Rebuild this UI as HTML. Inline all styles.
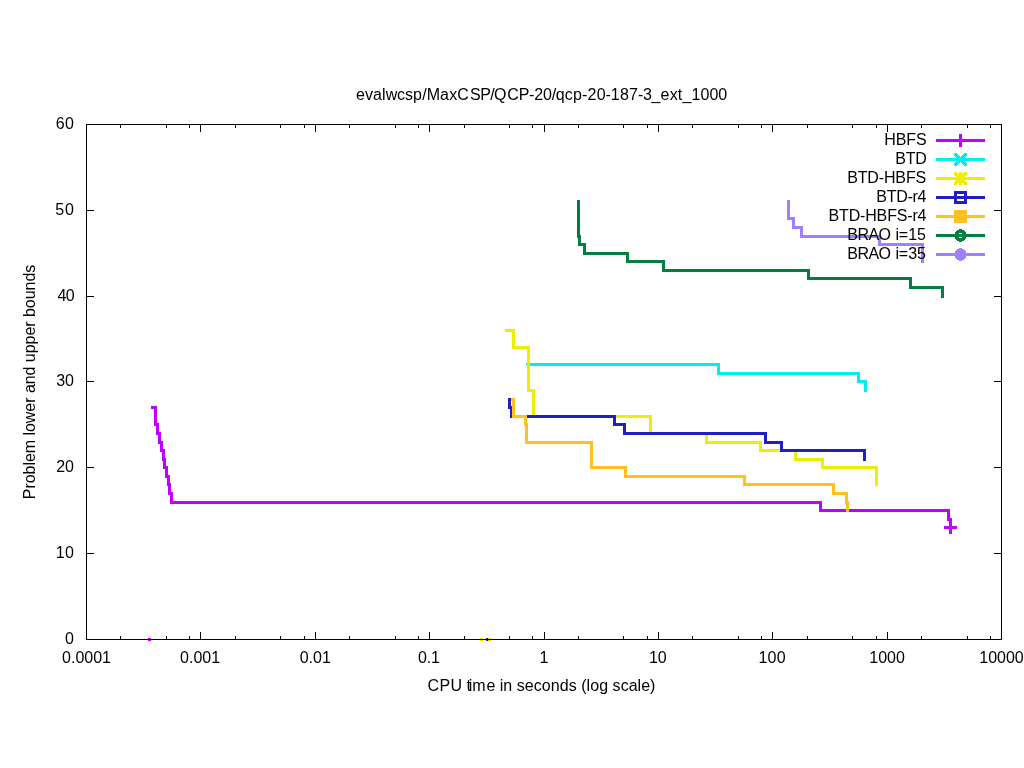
<!DOCTYPE html>
<html><head><meta charset="utf-8"><title>evalwcsp/MaxCSP/QCP-20/qcp-20-187-3_ext_1000</title>
<style>html,body{margin:0;padding:0;background:#fff;overflow:hidden}svg{display:block}</style></head>
<body>
<svg width="1024" height="768" viewBox="0 0 1024 768">
<rect width="1024" height="768" fill="#fff"/>
<g shape-rendering="crispEdges">
<rect x="148" y="638" width="3" height="3" fill="#c000ff"/>
<rect x="480" y="638" width="3" height="3" fill="#eeee00"/>
<rect x="486" y="638" width="3" height="3" fill="#2020c0"/>
<rect x="488" y="638" width="3" height="3" fill="#ffc020"/>
<g fill="none" stroke-width="3" stroke-linejoin="miter" stroke-linecap="butt">
<path d="M151 407.5 L155.5 407.5 L155.5 424.5 L157.5 424.5 L157.5 433.5 L159.5 433.5 L159.5 442.5 L161.5 442.5 L161.5 450.5 L163.5 450.5 L163.5 459.5 L164.5 459.5 L164.5 467.5 L166.5 467.5 L166.5 476.5 L168.5 476.5 L168.5 484.5 L169.5 484.5 L169.5 493.5 L171.5 493.5 L171.5 502.5 L820.5 502.5 L820.5 510.5 L948.5 510.5 L948.5 519.5 L950.5 519.5 L950.5 529" stroke="#c000ff"/>
<path d="M526 364.5 L718.5 364.5 L718.5 373.5 L858.5 373.5 L858.5 381.5 L865.5 381.5 L865.5 392" stroke="#00eeee"/>
<path d="M505 330.5 L513.5 330.5 L513.5 347.5 L528.5 347.5 L528.5 390.5 L533.5 390.5 L533.5 416.5 L650.5 416.5 L650.5 433.5 L706.5 433.5 L706.5 442.5 L760.5 442.5 L760.5 450.5 L795.5 450.5 L795.5 459.5 L822.5 459.5 L822.5 467.5 L876.5 467.5 L876.5 486" stroke="#eeee00"/>
<path d="M509.5 398 L509.5 407.5 L511.5 407.5 L511.5 416.5 L614.5 416.5 L614.5 424.5 L624.5 424.5 L624.5 433.5 L765.5 433.5 L765.5 442.5 L781.5 442.5 L781.5 450.5 L864.5 450.5 L864.5 461" stroke="#2020c0"/>
<path d="M511 399.5 L513.5 399.5 L513.5 416.5 L525.5 416.5 L525.5 424.5 L526.5 424.5 L526.5 442.5 L591.5 442.5 L591.5 467.5 L625.5 467.5 L625.5 476.5 L744.5 476.5 L744.5 484.5 L833.5 484.5 L833.5 493.5 L846.5 493.5 L846.5 502.5 L847.5 502.5 L847.5 512" stroke="#ffc020"/>
<path d="M578.5 200 L578.5 236.5 L579.5 236.5 L579.5 244.5 L584.5 244.5 L584.5 253.5 L627.5 253.5 L627.5 261.5 L663.5 261.5 L663.5 270.5 L808.5 270.5 L808.5 278.5 L910.5 278.5 L910.5 287.5 L942.5 287.5 L942.5 298" stroke="#008040"/>
<path d="M788.5 200 L788.5 218.5 L793.5 218.5 L793.5 227.5 L801.5 227.5 L801.5 236.5 L879.5 236.5 L879.5 244.5 L922.5 244.5 L922.5 263" stroke="#a080ff"/>
</g>
<path d="M944 527.5h13M950.5 521v13" stroke="#c000ff" stroke-width="3" fill="none"/>
<path d="M936 140.5H985" stroke="#c000ff" stroke-width="3" fill="none"/>
<path d="M954 140.5h13M960.5 134v13" stroke="#c000ff" stroke-width="3" fill="none"/>
<path d="M936 159.5H985" stroke="#00eeee" stroke-width="3" fill="none"/>
<path d="M954 153h2.5l10.5 10.5v2.5h-2.5l-10.5 -10.5z" fill="#00eeee"/><path d="M967 153h-2.5l-10.5 10.5v2.5h2.5l10.5 -10.5z" fill="#00eeee"/>
<path d="M936 178.5H985" stroke="#eeee00" stroke-width="3" fill="none"/>
<path d="M954 172h2.5l10.5 10.5v2.5h-2.5l-10.5 -10.5z" fill="#eeee00"/><path d="M967 172h-2.5l-10.5 10.5v2.5h2.5l10.5 -10.5z" fill="#eeee00"/><path d="M954 178.5h13M960.5 172v13" stroke="#eeee00" stroke-width="3" fill="none"/>
<path d="M936 197.5H985" stroke="#2020c0" stroke-width="3" fill="none"/>
<rect x="955.5" y="192.5" width="10" height="10" stroke="#2020c0" stroke-width="3" fill="none"/>
<path d="M936 216.5H985" stroke="#ffc020" stroke-width="3" fill="none"/>
<rect x="954" y="210" width="13" height="13" fill="#ffc020"/>
<path d="M936 235.5H985" stroke="#008040" stroke-width="3" fill="none"/>
<path d="M959 229h3v1h-3zM957 230h7v1h-7zM956 231h9v1h-9zM955 232h11v1h-11zM955 233h4v1h-4zM962 233h4v1h-4zM954 234h13v1h-13zM954 235h13v1h-13zM954 236h13v1h-13zM955 237h4v1h-4zM962 237h4v1h-4zM955 238h11v1h-11zM956 239h9v1h-9zM957 240h7v1h-7zM959 241h3v1h-3z" fill="#008040"/>
<path d="M936 254.5H985" stroke="#a080ff" stroke-width="3" fill="none"/>
<path d="M959 248h3v1h-3zM957 249h7v1h-7zM956 250h9v1h-9zM955 251h11v1h-11zM955 252h11v1h-11zM954 253h13v1h-13zM954 254h13v1h-13zM954 255h13v1h-13zM955 256h11v1h-11zM955 257h11v1h-11zM956 258h9v1h-9zM957 259h7v1h-7zM959 260h3v1h-3z" fill="#a080ff"/>
<g stroke="#000" stroke-width="1" fill="none">
<rect x="86.5" y="124.5" width="915.0" height="515.0"/>
<path d="M120.5 639.5v-3.5M120.5 124.5v3.5M166.5 639.5v-3.5M166.5 124.5v3.5M189.5 639.5v-3.5M189.5 124.5v3.5M200.5 639.5v-7.5M200.5 124.5v7.5M235.5 639.5v-3.5M235.5 124.5v3.5M280.5 639.5v-3.5M280.5 124.5v3.5M304.5 639.5v-3.5M304.5 124.5v3.5M315.5 639.5v-7.5M315.5 124.5v7.5M349.5 639.5v-3.5M349.5 124.5v3.5M395.5 639.5v-3.5M395.5 124.5v3.5M418.5 639.5v-3.5M418.5 124.5v3.5M429.5 639.5v-7.5M429.5 124.5v7.5M464.5 639.5v-3.5M464.5 124.5v3.5M509.5 639.5v-3.5M509.5 124.5v3.5M532.5 639.5v-3.5M532.5 124.5v3.5M544.5 639.5v-7.5M544.5 124.5v7.5M578.5 639.5v-3.5M578.5 124.5v3.5M623.5 639.5v-3.5M623.5 124.5v3.5M647.5 639.5v-3.5M647.5 124.5v3.5M658.5 639.5v-7.5M658.5 124.5v7.5M692.5 639.5v-3.5M692.5 124.5v3.5M738.5 639.5v-3.5M738.5 124.5v3.5M761.5 639.5v-3.5M761.5 124.5v3.5M772.5 639.5v-7.5M772.5 124.5v7.5M807.5 639.5v-3.5M807.5 124.5v3.5M852.5 639.5v-3.5M852.5 124.5v3.5M876.5 639.5v-3.5M876.5 124.5v3.5M887.5 639.5v-7.5M887.5 124.5v7.5M921.5 639.5v-3.5M921.5 124.5v3.5M967.5 639.5v-3.5M967.5 124.5v3.5M990.5 639.5v-3.5M990.5 124.5v3.5M86.5 553.5h7.5M1001.5 553.5h-7.5M86.5 467.5h7.5M1001.5 467.5h-7.5M86.5 381.5h7.5M1001.5 381.5h-7.5M86.5 296.5h7.5M1001.5 296.5h-7.5M86.5 210.5h7.5M1001.5 210.5h-7.5"/>
</g>
</g>
<g font-family="'Liberation Sans', Arial, sans-serif" font-size="16" fill="#000">
<text x="926.6" y="145" text-anchor="end" letter-spacing="-0.100">HBFS</text>
<text x="926.4" y="164" text-anchor="end" letter-spacing="-0.300">BTD</text>
<text x="926.06" y="183" text-anchor="end" letter-spacing="-0.143">BTD-HBFS</text>
<text x="926.24" y="202" text-anchor="end" letter-spacing="-0.260">BTD-r4</text>
<text x="926.34" y="221" text-anchor="end" letter-spacing="-0.160">BTD-HBFS-r4</text>
<text x="925.62" y="240" text-anchor="end" letter-spacing="-0.275" dx="0 -0.2 -0.25 -0.25 0 0.5 0.15 0.45 0">BRAO i=15</text>
<text x="925.62" y="259" text-anchor="end" letter-spacing="-0.275" dx="0 -0.2 -0.25 -0.25 0 0.5 0.15 0.45 0">BRAO i=35</text>
<text x="74" y="644" text-anchor="end">0</text>
<text x="74.5" y="558" text-anchor="end" letter-spacing="0.500">10</text>
<text x="74" y="472" text-anchor="end">20</text>
<text x="74" y="386" text-anchor="end">30</text>
<text x="74.1" y="301" text-anchor="end" letter-spacing="-0.650">40</text>
<text x="74.9" y="215" text-anchor="end" letter-spacing="0.900">50</text>
<text x="74.5" y="129" text-anchor="end" letter-spacing="0.500">60</text>
<text x="86.5" y="662.5" text-anchor="middle">0.0001</text>
<text x="200.07" y="662.5" text-anchor="middle">0.001</text>
<text x="315.25" y="662.5" text-anchor="middle">0.01</text>
<text x="428.8" y="662.5" text-anchor="middle" letter-spacing="-0.150">0.1</text>
<text x="544" y="662.5" text-anchor="middle">1</text>
<text x="657.88" y="662.5" text-anchor="middle">10</text>
<text x="772.14" y="662.5" text-anchor="middle" letter-spacing="0.125">100</text>
<text x="887.12" y="662.5" text-anchor="middle">1000</text>
<text x="1001.5" y="662.5" text-anchor="middle">10000</text>
<text x="541.5" y="691" text-anchor="middle" dx="0 0.35 0.35 0 -0.1 -2.2 0.1 0.7 -0.05 -0.05 0 0.1 0.1 -0.1 0.1 0.1 0.05 0.05 0.05 0.05 0.1 0 0.1 0 0.05 0.05 0.1 0 0 0 0">CPU time in seconds (log scale)</text>
<text transform="translate(35,382) rotate(-90)" text-anchor="middle" letter-spacing="-0.04">Problem lower and upper bounds</text>
<text x="541.3" y="99.5" text-anchor="middle" letter-spacing="0.025" dx="0.4 0 0 0 0.1 -0.2 -0.1 -0.1 0.3 0 0 0.2 0 1.1 -0.45 -0.65 -0.8 0.8 -0.1 -0.3 -0.1 -0.2 -0.3 -0.4 0.05 0.2 0.1 0.2 0.25 -0.25 0 0.25 0 0 -0.3 -0.3 0 0.2 0.05 0.25 0.1 0 0 0">evalwcsp/MaxCSP/QCP-20/qcp-20-187-3_ext_1000</text>
</g>
</svg>
</body></html>
